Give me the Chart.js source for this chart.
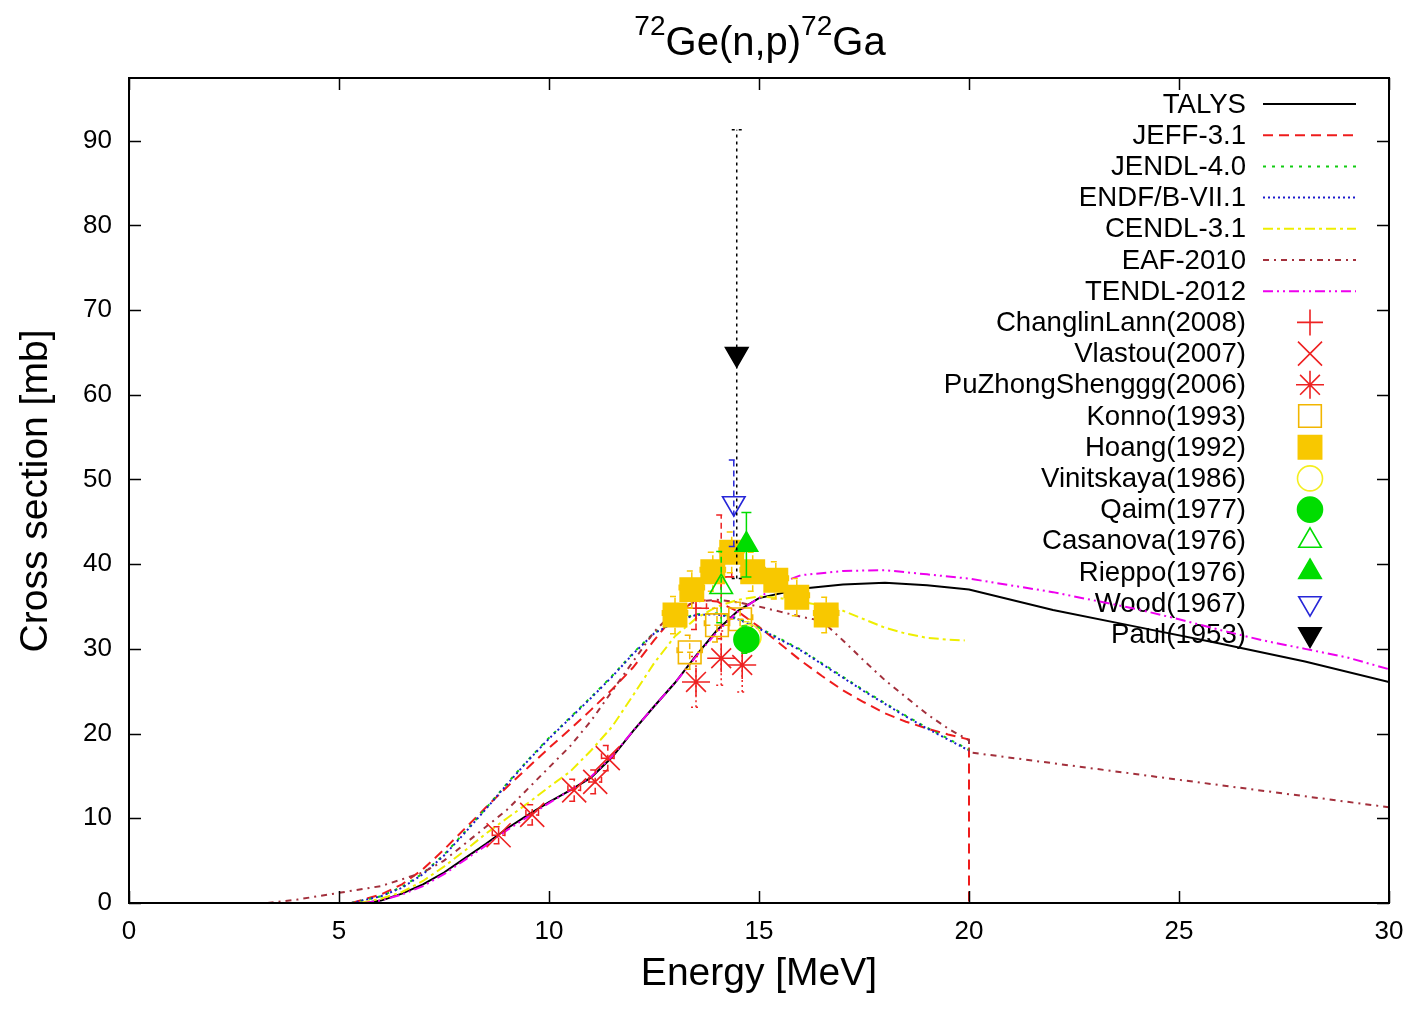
<!DOCTYPE html>
<html>
<head>
<meta charset="utf-8">
<title>72Ge(n,p)72Ga</title>
<script src="https://cdn.jsdelivr.net/npm/chart.js@4.4.1/dist/chart.umd.min.js"></script>
<style>
  html, body { margin: 0; padding: 0; background: #fff; }
  #wrap { width: 1411px; height: 1024px; }
</style>
</head>
<body>
<div id="wrap"><canvas id="xsChart" width="1411" height="1024"></canvas></div>
<script>
// ===== Axis ticks =====
const xTicks = [0, 5, 10, 15, 20, 25, 30];
const yTicks = [0, 10, 20, 30, 40, 50, 60, 70, 80, 90];

// ===== Evaluated libraries: energy [MeV] / cross section [mb] =====
const talysE  = [5.6, 6, 6.5, 7, 7.5, 8, 8.5, 9, 9.5, 10, 10.5, 11, 11.5, 12, 12.5, 13, 13.5, 14, 14.5, 15, 16, 17, 18, 19, 20, 22, 24, 26, 28, 30];
const talysXS = [0, 0.3, 1.1, 2.2, 3.6, 5.3, 7.0, 8.8, 10.4, 11.9, 13.3, 14.8, 17.2, 20.3, 23.2, 26.0, 29.2, 32.2, 34.5, 36.0, 37.1, 37.6, 37.8, 37.5, 37.0, 34.6, 32.6, 30.6, 28.5, 26.1];

const jeffE  = [5.3, 6, 6.5, 7, 7.5, 8, 8.5, 9, 9.5, 10, 10.5, 11, 11.5, 12, 12.5, 13, 13.5, 14, 14.5, 15, 15.5, 16, 16.5, 17, 17.5, 18, 18.5, 19, 19.5, 20, 20];
const jeffXS = [0, 1.0, 2.2, 4.0, 6.3, 8.8, 11.3, 13.7, 16.0, 18.3, 20.5, 22.8, 25.2, 27.8, 31.0, 34.0, 35.8, 35.6, 34.4, 32.6, 30.6, 28.6, 26.8, 25.1, 23.7, 22.4, 21.4, 20.6, 19.9, 19.3, 0];

const jendlE  = [5.3, 6, 6.5, 7, 7.5, 8, 8.5, 9, 9.5, 10, 10.5, 11, 11.5, 12, 12.5, 13, 13.5, 14, 14.5, 15, 15.5, 16, 16.5, 17, 17.5, 18, 18.5, 19, 19.5, 20];
const jendlXS = [0, 0.8, 1.9, 3.5, 5.7, 8.4, 11.2, 14.1, 16.9, 19.5, 21.9, 24.3, 26.8, 29.5, 31.9, 33.3, 34.1, 34.2, 33.6, 32.5, 31.2, 29.9, 28.3, 26.7, 25.1, 23.6, 22.1, 20.7, 19.4, 18.1];

const endfE  = [5.3, 6, 6.5, 7, 7.5, 8, 8.5, 9, 9.5, 10, 10.5, 11, 11.5, 12, 12.5, 13, 13.5, 14, 14.5, 15, 15.5, 16, 16.5, 17, 17.5, 18, 18.5, 19, 19.5, 20];
const endfXS = [0, 0.8, 1.8, 3.4, 5.6, 8.3, 11.1, 14.0, 16.8, 19.4, 21.8, 24.2, 26.7, 29.4, 31.8, 33.2, 34.0, 34.1, 33.5, 32.4, 31.1, 29.8, 28.2, 26.6, 25.0, 23.5, 22.0, 20.6, 19.3, 18.0];

const cendlE  = [5.5, 6, 6.5, 7, 7.5, 8, 8.5, 9, 9.5, 10, 10.5, 11, 11.5, 12, 12.5, 13, 13.5, 14, 14.5, 15, 15.5, 16, 16.5, 17, 17.5, 18, 18.5, 19, 19.5, 19.9];
const cendlXS = [0, 0.5, 1.3, 2.6, 4.3, 6.2, 8.2, 10.0, 11.8, 13.7, 15.5, 18.0, 20.8, 24.5, 28.3, 31.5, 33.6, 35.0, 35.8, 36.2, 36.0, 35.6, 35.1, 34.5, 33.5, 32.5, 31.8, 31.3, 31.1, 31.0];

const eafE  = [3.3, 4, 5, 6, 7, 7.5, 8, 8.5, 9, 9.5, 10, 10.5, 11, 11.5, 12, 12.5, 13, 13.5, 14, 14.5, 15, 15.5, 16, 16.5, 17, 17.5, 18, 18.5, 19, 19.5, 20, 20, 22, 24, 26, 28, 30];
const eafXS = [0, 0.4, 1.2, 2.0, 3.6, 5.0, 7.0, 9.0, 11.0, 13.5, 16.0, 18.5, 21.5, 25.0, 28.5, 32.0, 34.5, 35.6, 35.8, 35.5, 35.0, 34.4, 33.8, 33.3, 31.0, 28.6, 26.3, 24.3, 22.3, 20.6, 19.2, 17.8, 16.5, 15.2, 13.9, 12.6, 11.3];

const tendlE  = [5.6, 6, 6.5, 7, 7.5, 8, 8.5, 9, 9.5, 10, 10.5, 11, 11.5, 12, 12.5, 13, 13.5, 14, 14.5, 15, 15.5, 16, 17, 18, 19, 20, 21, 22, 23, 24, 25, 26, 27, 28, 29, 30];
const tendlXS = [0, 0.3, 1.0, 2.0, 3.4, 5.1, 6.8, 8.6, 10.2, 11.8, 13.3, 14.9, 17.3, 20.3, 23.2, 26.0, 29.1, 32.0, 34.4, 36.0, 37.8, 38.7, 39.2, 39.3, 38.8, 38.3, 37.5, 36.7, 35.7, 34.7, 33.5, 32.2, 31.0, 30.0, 29.0, 27.6];

// ===== Measurements: energy, cross section, errors =====
const changlinE = [13.5, 14.1];
const changlinXS = [34.8, 38.5];
const changlinErr = [2.5, 7.3];
const changlinEErr = [0.25, 0.25];

const vlastouE = [8.8, 9.6, 10.6, 11.1, 11.4];
const vlastouXS = [8.0, 10.4, 13.3, 14.3, 17.1];
const vlastouErr = [1.0, 1.2, 1.3, 1.4, 1.5];
const vlastouEErr = [0.15, 0.15, 0.15, 0.15, 0.15];

const puE = [13.5, 14.1, 14.6];
const puXS = [26.1, 28.9, 28.1];
const puErr = [3.0, 3.2, 3.2];

const konnoE = [13.35, 14.0, 14.55];
const konnoXS = [29.6, 32.8, 33.5];
const konnoErr = [2.0, 2.0, 2.0];
const konnoEErr = [0.3, 0.3, 0.3];

const hoangE = [13.0, 13.4, 13.9, 14.35, 14.85, 15.4, 15.9, 16.6];
const hoangXS = [34.0, 37.0, 39.1, 41.4, 39.1, 38.1, 36.1, 34.0];
const hoangErr = [2.2, 2.2, 2.3, 2.4, 2.3, 2.2, 2.2, 2.1];
const hoangEErr = [0.3, 0.3, 0.3, 0.3, 0.3, 0.3, 0.3, 0.3];

const vinitskayaE = [14.75];
const vinitskayaXS = [31.4];
const vinitskayaErr = [1.8];

const qaimE = [14.7];
const qaimXS = [31.1];
const qaimErr = [1.6];

const casanovaE = [14.1];
const casanovaXS = [37.3];
const casanovaErr = [4.2];

const rieppoE = [14.7];
const rieppoXS = [42.3];
const rieppoErr = [3.8];

const woodE = [14.4];
const woodXS = [47.2];
const woodErr = [5.1];

const paulE = [14.47];
const paulXS = [64.8];
const paulErr = [26.5];

// ===== Helpers =====
const FONT = "'Liberation Sans', Arial, Helvetica, sans-serif";
const pts = (xs, ys) => xs.map((x, i) => ({ x: x, y: ys[i] }));

function curve(label, xs, ys, color, dash) {
  return {
    label: label, data: pts(xs, ys), showLine: true, kind: 'line',
    borderColor: color, borderWidth: 2, borderDash: dash,
    pointRadius: 0, tension: 0, fill: false
  };
}

function marks(label, xs, ys, color, style, radius, filled, errY, errX, errDash, extra) {
  return Object.assign({
    label: label, data: pts(xs, ys), showLine: false, kind: 'point',
    pointStyle: style, pointRadius: radius, pointRotation: 0,
    pointBorderColor: color, pointBorderWidth: 1.6,
    pointBackgroundColor: filled ? color : 'rgba(0,0,0,0)',
    borderColor: color, backgroundColor: filled ? color : 'rgba(0,0,0,0)',
    errY: errY, errX: errX, errDash: errDash
  }, extra || {});
}

const RED = '#ee2222', GOLD = '#f8c800', GREEN = '#00dd00', BLUE = '#2626d8';

const datasets = [
  curve('TALYS', talysE, talysXS, '#000000', []),
  curve('JEFF-3.1', jeffE, jeffXS, '#ee1c1c', [10, 6]),
  curve('JENDL-4.0', jendlE, jendlXS, '#11cc11', [3, 6]),
  curve('ENDF/B-VII.1', endfE, endfXS, '#1a1acc', [2, 3]),
  curve('CENDL-3.1', cendlE, cendlXS, '#eeee00', [10, 4, 3, 4]),
  curve('EAF-2010', eafE, eafXS, '#a3303c', [6, 5, 2, 5]),
  curve('TENDL-2012', tendlE, tendlXS, '#ee00ee', [10, 4, 2, 4, 2, 4]),
  marks('ChanglinLann(2008)', changlinE, changlinXS, RED, 'cross', 13, false, changlinErr, changlinEErr, [6, 4]),
  marks('Vlastou(2007)', vlastouE, vlastouXS, RED, 'crossRot', 17, false, vlastouErr, vlastouEErr, [6, 4]),
  marks('PuZhongShenggg(2006)', puE, puXS, RED, 'star', 14, false, puErr, null, [2, 3]),
  marks('Konno(1993)', konnoE, konnoXS, '#f2b600', 'rect', 16, false, konnoErr, konnoEErr, [6, 4]),
  marks('Hoang(1992)', hoangE, hoangXS, GOLD, 'rect', 16.5, true, hoangErr, hoangEErr, [6, 4]),
  marks('Vinitskaya(1986)', vinitskayaE, vinitskayaXS, '#f4ee20', 'circle', 12.5, false, vinitskayaErr, null, [6, 4]),
  marks('Qaim(1977)', qaimE, qaimXS, GREEN, 'circle', 12.5, true, qaimErr, null, [6, 4]),
  marks('Casanova(1976)', casanovaE, casanovaXS, GREEN, 'triangle', 13, false, casanovaErr, null, [6, 4]),
  marks('Rieppo(1976)', rieppoE, rieppoXS, GREEN, 'triangle', 13, true, rieppoErr, null, []),
  marks('Wood(1967)', woodE, woodXS, BLUE, 'triangle', 13, false, woodErr, null, [6, 4], { pointRotation: 180 }),
  marks('Paul(1953)', paulE, paulXS, '#000000', 'triangle', 13, true, paulErr, null, [3, 4], { pointRotation: 180 })
];
// later series are drawn on top, like the original plot
datasets.forEach((d, i) => { d.order = datasets.length - i; });

// ===== Plugins =====
const errorBars = {
  id: 'errorBars',
  beforeDatasetDraw(chart, args) {
    const ds = chart.data.datasets[args.index];
    if (!ds.errY) return;
    const ctx = chart.ctx, xs = chart.scales.x, ys = chart.scales.y;
    ctx.save();
    ctx.strokeStyle = ds.pointBorderColor;
    ctx.lineWidth = 1.5;
    ctx.setLineDash(ds.errDash || []);
    ds.data.forEach((p, i) => {
      const px = xs.getPixelForValue(p.x);
      const py = ys.getPixelForValue(p.y);
      const yTop = ys.getPixelForValue(p.y + ds.errY[i]);
      const yBot = ys.getPixelForValue(p.y - ds.errY[i]);
      ctx.beginPath();
      ctx.moveTo(px, yBot); ctx.lineTo(px, yTop);
      ctx.moveTo(px - 5, yTop); ctx.lineTo(px + 5, yTop);
      ctx.moveTo(px - 5, yBot); ctx.lineTo(px + 5, yBot);
      if (ds.errX) {
        const xl = xs.getPixelForValue(p.x - ds.errX[i]);
        const xr = xs.getPixelForValue(p.x + ds.errX[i]);
        ctx.moveTo(xl, py); ctx.lineTo(xr, py);
        ctx.moveTo(xl, py - 5); ctx.lineTo(xl, py + 5);
        ctx.moveTo(xr, py - 5); ctx.lineTo(xr, py + 5);
      }
      ctx.stroke();
    });
    ctx.restore();
  }
};

const keyBox = {
  id: 'keyBox',
  beforeDatasetsDraw(chart) {
    const ctx = chart.ctx;
    const textRight = 1246, lineL = 1263, lineR = 1356, markX = 1310;
    const top = 104, step = 31.2;
    ctx.save();
    ctx.font = '27.6px ' + FONT;
    ctx.textAlign = 'right';
    ctx.textBaseline = 'middle';
    chart.data.datasets.forEach((ds, i) => {
      const y = top + i * step;
      ctx.fillStyle = '#000';
      ctx.fillText(ds.label, textRight, y + 1);
      if (ds.kind === 'line') {
        ctx.strokeStyle = ds.borderColor;
        ctx.lineWidth = ds.borderWidth;
        ctx.setLineDash(ds.borderDash);
        ctx.beginPath();
        ctx.moveTo(lineL, y); ctx.lineTo(lineR, y);
        ctx.stroke();
      } else {
        ctx.setLineDash([]);
        ctx.strokeStyle = ds.pointBorderColor;
        ctx.fillStyle = ds.pointBackgroundColor;
        ctx.lineWidth = ds.pointBorderWidth;
        Chart.helpers.drawPoint(ctx, {
          pointStyle: ds.pointStyle, radius: ds.pointRadius,
          rotation: ds.pointRotation, borderWidth: ds.pointBorderWidth
        }, markX, y);
      }
    });
    ctx.restore();
  }
};

const frame = {
  id: 'frame',
  afterDraw(chart) {
    const ctx = chart.ctx, a = chart.chartArea;
    const xs = chart.scales.x, ys = chart.scales.y;
    const tl = 12;
    ctx.save();
    ctx.strokeStyle = '#000';
    ctx.lineWidth = 2;
    ctx.setLineDash([]);
    ctx.strokeRect(a.left, a.top, a.right - a.left, a.bottom - a.top);
    ctx.lineWidth = 1.5;
    ctx.beginPath();
    xTicks.forEach(v => {
      const px = Math.round(xs.getPixelForValue(v)) + 0.5;
      ctx.moveTo(px, a.bottom); ctx.lineTo(px, a.bottom - tl);
      ctx.moveTo(px, a.top); ctx.lineTo(px, a.top + tl);
    });
    yTicks.forEach(v => {
      const py = Math.round(ys.getPixelForValue(v)) + 0.5;
      ctx.moveTo(a.left, py); ctx.lineTo(a.left + tl, py);
      ctx.moveTo(a.right, py); ctx.lineTo(a.right - tl, py);
    });
    ctx.stroke();

    // title with superscript mass numbers
    const parts = [['72', true], ['Ge(n,p)', false], ['72', true], ['Ga', false]];
    const big = '40px ' + FONT, small = '28px ' + FONT;
    let w = 0;
    parts.forEach(p => { ctx.font = p[1] ? small : big; w += ctx.measureText(p[0]).width; });
    let x = 760 - w / 2;
    ctx.fillStyle = '#000';
    ctx.textAlign = 'left';
    ctx.textBaseline = 'alphabetic';
    parts.forEach(p => {
      ctx.font = p[1] ? small : big;
      ctx.fillText(p[0], x, p[1] ? 35 : 55);
      x += ctx.measureText(p[0]).width;
    });

    // axis titles
    ctx.font = '39px ' + FONT;
    ctx.textAlign = 'center';
    ctx.fillText('Energy [MeV]', 759, 985);
    ctx.translate(47, 491);
    ctx.rotate(-Math.PI / 2);
    ctx.fillText('Cross section [mb]', 0, 0);
    ctx.restore();
  }
};

// ===== Chart =====
new Chart(document.getElementById('xsChart'), {
  type: 'scatter',
  data: { datasets: datasets },
  options: {
    responsive: false,
    animation: false,
    devicePixelRatio: 1,
    events: [],
    layout: { padding: { top: 78, right: 22, left: 0, bottom: 0 } },
    plugins: { legend: { display: false }, tooltip: { enabled: false }, title: { display: false } },
    scales: {
      x: {
        type: 'linear', min: 0, max: 30,
        afterFit: s => { s.height = 121; s.paddingLeft = 0; s.paddingRight = 0; },
        afterBuildTicks: s => { s.ticks = xTicks.map(v => ({ value: v })); },
        grid: { display: false, drawTicks: false },
        border: { display: false },
        ticks: { font: { size: 26, family: FONT }, color: '#000', padding: 13, maxRotation: 0, autoSkip: false }
      },
      y: {
        type: 'linear', min: 0, max: 97.4,
        afterFit: s => { s.width = 129; s.paddingTop = 0; s.paddingBottom = 0; },
        afterBuildTicks: s => { s.ticks = yTicks.map(v => ({ value: v })); },
        grid: { display: false, drawTicks: false },
        border: { display: false },
        ticks: { font: { size: 26, family: FONT }, color: '#000', padding: 17, autoSkip: false }
      }
    }
  },
  plugins: [errorBars, keyBox, frame]
});
</script>
</body>
</html>
